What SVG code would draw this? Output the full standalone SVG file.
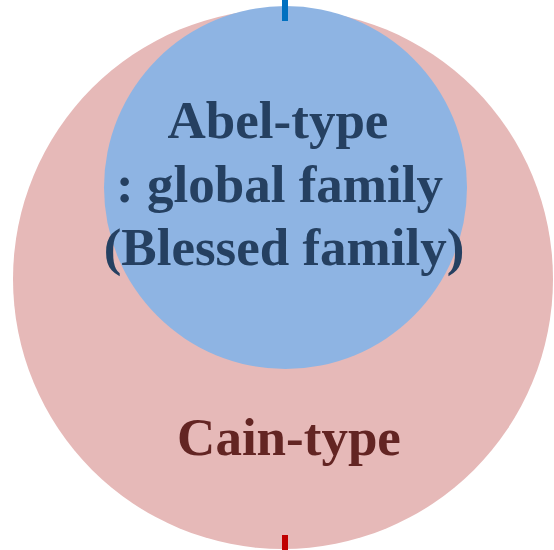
<svg xmlns="http://www.w3.org/2000/svg" width="554" height="550" viewBox="0 0 554 550">
<style>
.t{font-family:"Liberation Serif","Times New Roman",serif;font-weight:bold;font-size:53px;text-anchor:middle}
.abel{fill:#254061}
.cain{fill:#632523}
</style>
<rect width="554" height="550" fill="#ffffff"/>
<g id="cain">
<circle cx="283" cy="279" r="270" fill="#E6B9B8"/>
<text class="t cain" x="289" y="455">Cain-type</text>
</g>
<g id="abel">
<circle cx="285.5" cy="187.5" r="181.5" fill="#8EB4E3"/>
<text class="t abel" x="278" y="138">Abel-type</text>
<text class="t abel" x="279.5" y="202">: global family</text>
<text class="t abel" x="284" y="265">(Blessed family)</text>
</g>
<g id="connectors">
<rect x="282" y="0" width="6" height="21" fill="#0070C0"/>
<rect x="282" y="535" width="6" height="15" fill="#C00000"/>
</g>
</svg>
